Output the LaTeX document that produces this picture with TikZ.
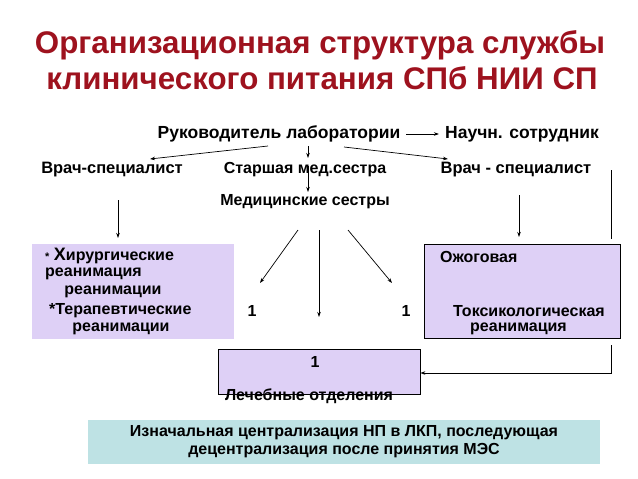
\documentclass[tikz,border=0pt]{standalone}
\usepackage{fontspec}
\setmainfont{Liberation Sans}
\usetikzlibrary{arrows.meta}
\definecolor{titlered}{RGB}{158,18,30}
\definecolor{lilac}{RGB}{222,208,246}
\definecolor{sea}{RGB}{190,226,228}

\begin{document}
\begin{tikzpicture}[x=1pt,y=-1pt]
\tikzset{every node/.style={inner sep=0pt,font=\bfseries\fontsize{16}{18}\selectfont},
  big/.style={font=\bfseries\fontsize{17.5}{20}\selectfont},
  arr/.style={-{Stealth[length=5pt,width=3.5pt]},line width=0.7pt},
  box/.style={draw,line width=0.8pt,fill=lilac}}
\useasboundingbox (0,0) rectangle (638,479);
% title
\node (t1) at (320,45) [font=\bfseries\fontsize{31.3}{34}\selectfont,text=titlered] {Организационная структура службы};
\node (t2) at (322,78) [font=\bfseries\fontsize{31.3}{34}\selectfont,text=titlered] {клинического питания СПб НИИ СП};

% top rows
\node (head) at (279,134) [big] {Руководитель лаборатории};
\node (sci) at (522,134) [big] {Научн. сотрудник};
\node (docl) at (112,170) [font=\bfseries\fontsize{16.5}{18}\selectfont] {Врач-специалист};
\node (nurse) at (305,170) {Старшая мед.сестра};
\node (docr) at (516,170) [font=\bfseries\fontsize{16.5}{18}\selectfont] {Врач - специалист};
\node (staff) at (305,202) {Медицинские сестры};

% boxes
\node (icu) at (133,291.5) [fill=lilac,minimum width=202pt,minimum height=95pt] {};
\node (burn) at (522,291) [box,minimum width=196pt,minimum height=94pt] {};
\node (ward) at (319,371.5) [box,minimum width=202pt,minimum height=45pt] {};
\node (note) at (344,442) [fill=sea,minimum width=512pt,minimum height=44pt,align=center] {Изначальная централизация НП в ЛКП, последующая\\децентрализация после принятия МЭС};

\node (i1) at (45,256) [anchor=west] {{\fontsize{11}{13}\selectfont*} {\fontsize{18}{18}\selectfont Х}ирургические};
\node (i2) at (45,274) [anchor=west] {реанимация};
\node (i3) at (113,292) {реанимации};
\node (i4) at (49,311) [anchor=west] {*Терапевтические};
\node (i5) at (121,329) {реанимации};

\node (b1) at (440,257) [anchor=west] {Ожоговая};
\node (b2) at (453,311) [anchor=west] {Токсикологическая};
\node (b3) at (470,329) [anchor=west] {реанимация};

\node (n1) at (252,311) {1};
\node (n2) at (406,311) {1};
\node (n3) at (315,362) {1};
\node (wardtext) at (309,396) {Лечебные отделения};

% arrow ends
\coordinate (h1) at (268,146);
\coordinate (h2) at (150,159);
\coordinate (h3) at (308,146);
\coordinate (h4) at (308,158);
\coordinate (h5) at (344,147);
\coordinate (h6) at (448,159);
\coordinate (s1) at (308,166);
\coordinate (s2) at (308,192);
\coordinate (l1) at (118,200);
\coordinate (l2) at (118,238);
\coordinate (r1) at (519,195);
\coordinate (r2) at (519,237);
\coordinate (m1) at (298,230);
\coordinate (m2) at (260,283);
\coordinate (m3) at (319,230);
\coordinate (m4) at (319,317);
\coordinate (m5) at (348,230);
\coordinate (m6) at (392,283);
\coordinate (e1) at (611,170);
\coordinate (e2) at (611,239);
\coordinate (e3) at (611,345);
\coordinate (e4) at (611,373);

\path [arr]
(head) edge [shorten <=6pt,shorten >=6pt] (sci)
(h1) edge (h2)
(h3) edge (h4)
(h5) edge (h6)
(s1) edge (s2)
(l1) edge (l2)
(r1) edge (r2)
(m1) edge (m2)
(m3) edge (m4)
(m5) edge (m6);
\draw [line width=0.7pt] (e1) -- (e2);
\draw [arr] (e3) -- (e4) -- (e4 -| ward.east);
\end{tikzpicture}
\end{document}
